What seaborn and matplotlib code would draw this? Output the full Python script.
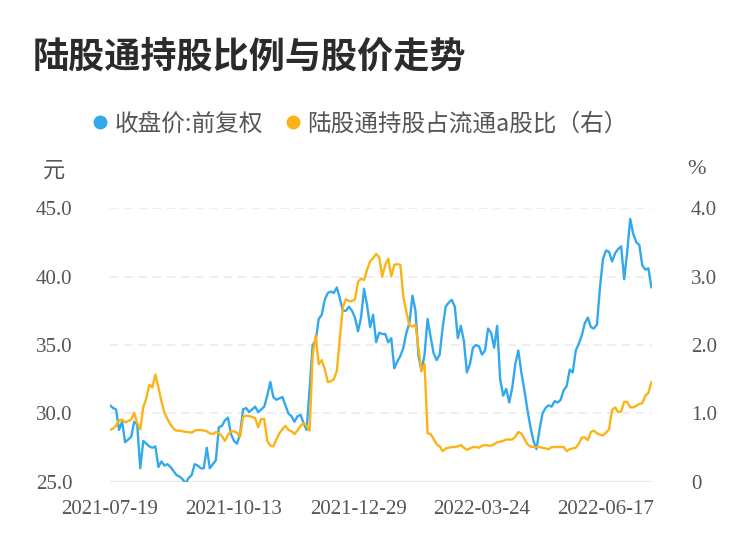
import numpy as np
import pandas as pd
import matplotlib
matplotlib.use("Agg")
import matplotlib.pyplot as plt
import seaborn as sns
from matplotlib.lines import Line2D

# ---- data ----
price = [
    30.6, 30.4, 30.3, 28.8, 29.4, 27.9, 28.1, 28.3, 29.4, 29.2,
    26.0, 28.0, 27.8, 27.6, 27.5, 27.6, 26.1, 26.5, 26.2, 26.3,
    26.1, 25.8, 25.5, 25.4, 25.2, 24.9, 25.3, 25.5, 26.3, 26.2,
    26.0, 26.0, 27.5, 26.0, 26.3, 26.6, 29.0, 29.1, 29.5, 29.7,
    28.5, 28.0, 27.8, 28.5, 30.3, 30.4, 30.1, 30.3, 30.5, 30.1,
    30.3, 30.5, 31.3, 32.3, 31.2, 31.0, 31.1, 31.2, 30.6, 30.0,
    29.8, 29.4, 29.8, 29.9, 29.3, 28.8, 31.8, 35.0, 35.3, 36.9,
    37.2, 38.3, 38.8, 38.9, 38.8, 39.2, 38.4, 37.5, 37.5, 37.8,
    37.5, 37.0, 36.0, 37.0, 39.1, 37.9, 36.3, 37.2, 35.2, 35.9,
    35.8, 35.8, 35.2, 35.5, 33.3, 33.8, 34.2, 34.8, 35.9, 36.6,
    38.6, 37.5, 34.2, 33.1, 34.3, 36.9, 35.6, 34.4, 33.9, 34.3,
    36.3, 37.8, 38.1, 38.3, 37.8, 35.5, 36.4, 35.3, 33.0, 33.6,
    34.8, 35.0, 34.9, 34.3, 34.6, 36.2, 35.9, 34.8, 36.4, 32.5,
    31.3, 31.8, 30.8, 31.9, 33.6, 34.6, 33.0, 31.7, 30.3, 29.0,
    28.0, 27.4, 28.8, 30.0, 30.4, 30.6, 30.5, 30.9, 30.8, 31.0,
    31.7, 32.0, 33.2, 33.0, 34.6, 35.1, 35.7, 36.6, 37.0, 36.3,
    36.2, 36.5, 39.2, 41.3, 41.9, 41.8, 41.1, 41.7, 42.0, 42.2,
    39.8, 41.8, 44.2, 43.1, 42.5, 42.3, 40.8, 40.5, 40.6, 39.2,
]
ratio = [
    0.76, 0.78, 0.82, 0.90, 0.91, 0.87, 0.89, 0.91, 1.01, 0.86,
    0.77, 1.09, 1.22, 1.42, 1.38, 1.57, 1.38, 1.18, 1.01, 0.92,
    0.84, 0.78, 0.75, 0.75, 0.74, 0.73, 0.73, 0.72, 0.75, 0.76,
    0.76, 0.75, 0.74, 0.71, 0.70, 0.73, 0.71, 0.67, 0.60, 0.69,
    0.74, 0.74, 0.72, 0.66, 0.95, 0.97, 0.96, 0.95, 0.93, 0.80,
    0.92, 0.92, 0.60, 0.53, 0.52, 0.62, 0.71, 0.77, 0.82, 0.76,
    0.74, 0.70, 0.75, 0.82, 0.86, 0.82, 0.75, 1.85, 2.14, 1.72,
    1.78, 1.65, 1.46, 1.47, 1.50, 1.62, 2.10, 2.55, 2.67, 2.64,
    2.64, 2.67, 2.92, 2.97, 2.95, 3.10, 3.22, 3.27, 3.33, 3.28,
    3.00, 3.17, 3.26, 3.00, 3.17, 3.18, 3.17, 2.70, 2.48, 2.28,
    2.27, 2.30, 1.95, 1.62, 1.72, 0.71, 0.70, 0.63, 0.55, 0.52,
    0.45, 0.49, 0.50, 0.51, 0.51, 0.52, 0.54, 0.50, 0.47, 0.49,
    0.51, 0.51, 0.50, 0.53, 0.54, 0.53, 0.53, 0.55, 0.58, 0.59,
    0.60, 0.62, 0.62, 0.62, 0.66, 0.73, 0.71, 0.63, 0.55, 0.52,
    0.51, 0.51, 0.51, 0.50, 0.49, 0.48, 0.51, 0.51, 0.51, 0.51,
    0.51, 0.45, 0.48, 0.49, 0.50, 0.56, 0.65, 0.65, 0.61, 0.73,
    0.75, 0.71, 0.69, 0.68, 0.72, 0.77, 1.05, 1.09, 1.02, 1.03,
    1.17, 1.17, 1.09, 1.09, 1.11, 1.14, 1.15, 1.26, 1.30, 1.46,
]
x_tick_labels = ["2021-07-19", "2021-10-13", "2021-12-29", "2022-03-24", "2022-06-17"]
x_tick_pos = [0, 41, 82, 123, 164]
left_ticks = [25, 30, 35, 40, 45]
left_tick_labels = ["25.0", "30.0", "35.0", "40.0", "45.0"]
right_ticks = [0, 1, 2, 3, 4]
right_tick_labels = ["0", "1.0", "2.0", "3.0", "4.0"]
series_names = ["收盘价:前复权", "陆股通持股占流通a股比（右）"]
title = "陆股通持股比例与股价走势"

BLUE = "#33a9ec"
ORANGE = "#fbb416"
GRID = "#e9e9e9"
TXT = "#555555"

sns.set_theme(style="white")
plt.rcParams["font.family"] = ["Noto Sans CJK SC", "DejaVu Sans"]

df = pd.DataFrame({"idx": np.arange(len(price)), "price": price, "ratio": ratio})

fig = plt.figure(figsize=(7.5, 5.58), dpi=100)
ax = fig.add_axes([110 / 750, 1 - 482 / 558, 542 / 750, 274 / 558])
ax2 = ax.twinx()

sns.lineplot(data=df, x="idx", y="price", ax=ax, color=BLUE, lw=1.7)
sns.lineplot(data=df, x="idx", y="ratio", ax=ax2, color=ORANGE, lw=1.7)

ax.set_xlim(0, len(price) - 1 + 0.2)
ax.set_ylim(25, 45)
ax2.set_ylim(0, 4)

for a in (ax, ax2):
    for s in a.spines.values():
        s.set_visible(False)
    a.set_xlabel("")
    a.set_ylabel("")

ax.set_yticks(left_ticks)
ax.set_yticklabels(left_tick_labels)
ax2.set_yticks(right_ticks)
ax2.set_yticklabels(right_tick_labels)
ax.set_xticks(x_tick_pos)
ax.set_xticklabels(x_tick_labels)

for y in left_ticks[1:]:
    ax.axhline(y, color=GRID, lw=1.1, ls=(0, (5.5, 3.8)), zorder=0)
ax.axhline(25, color=GRID, lw=1.6, zorder=0)

ax.tick_params(axis="y", length=0, pad=27, labelsize=15, labelcolor=TXT)
ax.tick_params(axis="x", length=0, pad=13, labelsize=15, labelcolor=TXT)
ax2.tick_params(axis="y", length=0, pad=28, labelsize=15, labelcolor=TXT)
for lab in ax.get_xticklabels() + ax.get_yticklabels() + ax2.get_yticklabels():
    lab.set_fontfamily(["Liberation Serif", "DejaVu Serif"])

fig.text(33 / 750, 1 - 57 / 558, title, fontsize=26, fontweight="bold",
         color="#2b2b2b", va="center", ha="left")
fig.text(54 / 750, 1 - 170 / 558, "元", fontsize=16, color=TXT, ha="center", va="center")
fig.text(697 / 750, 1 - 170 / 558, "%", fontsize=16, color=TXT, ha="center", va="center",
         family=["Liberation Serif", "DejaVu Serif"])

handles = [Line2D([], [], marker="o", ls="", markersize=9, color=BLUE),
           Line2D([], [], marker="o", ls="", markersize=9, color=ORANGE)]
fig.legend(handles, series_names, loc="center", bbox_to_anchor=(358 / 750, 1 - 124 / 558),
           ncol=2, frameon=False, fontsize=17, handletextpad=0.1, columnspacing=0.8,
           labelcolor=TXT, handlelength=1.0)

fig.savefig("out.png", dpi=100)
